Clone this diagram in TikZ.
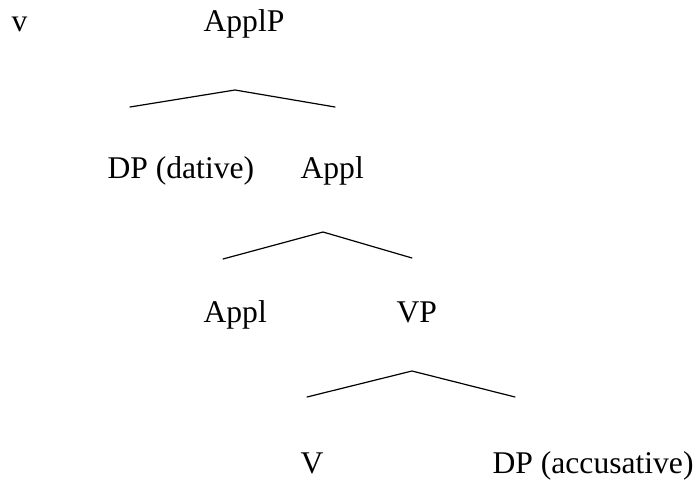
\documentclass[tikz,border=0pt]{standalone}
\usepackage{fontspec}
\setmainfont{Liberation Serif}
\begin{document}
\begin{tikzpicture}[x=0.5pt,y=-0.5pt,line join=round,line cap=round,line width=0.6pt,
		lbl/.style={anchor=base west,inner sep=0pt,font=\fontsize{15.8}{18}\selectfont}]
	\useasboundingbox (0,0) rectangle (696,481);
	% labels
	\node[lbl] (v) at (11,32) {v};
	\node[lbl] (applp) at (203,32) {ApplP};
	\node[lbl] (dpdat) at (107,178) {DP (dative)};
	\node[lbl] (appla) at (300,178) {Appl};
	\node[lbl] (applb) at (203,322) {Appl};
	\node[lbl] (vp) at (396,322) {VP};
	\node[lbl] (verb) at (300,473) {V};
	\node[lbl] (dpacc) at (492,473) {DP (accusative)};
	% branches
	\coordinate (t1) at (235,90); \coordinate (l1) at (130,107); \coordinate (r1) at (335,107);
	\coordinate (t2) at (323,232); \coordinate (l2) at (223,259); \coordinate (r2) at (412,258);
	\coordinate (t3) at (412,371); \coordinate (l3) at (307,397); \coordinate (r3) at (515,397);
	\draw (l1)--(t1)--(r1);
	\draw (l2)--(t2)--(r2);
	\draw (l3)--(t3)--(r3);
\end{tikzpicture}
\end{document}
